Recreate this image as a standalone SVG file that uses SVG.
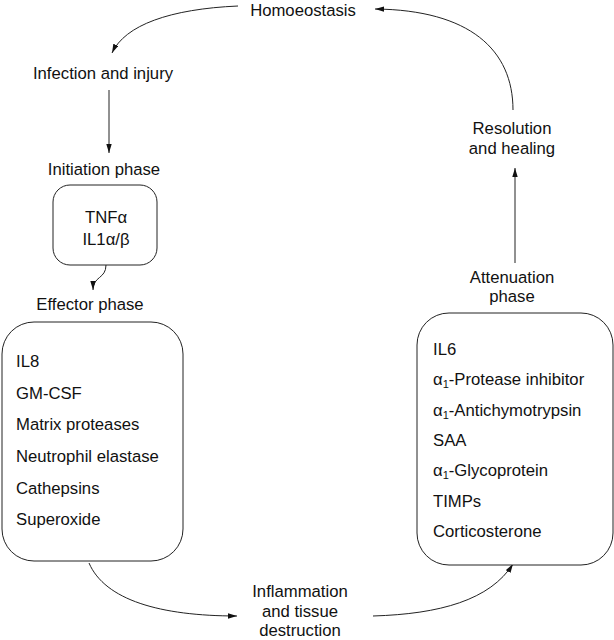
<svg xmlns="http://www.w3.org/2000/svg" width="614" height="640" viewBox="0 0 614 640">
<style>
text{font-family:"Liberation Sans",Arial,sans-serif;font-size:16.7px;fill:#111}
.c{text-anchor:middle}
.box{fill:#fff;stroke:#222;stroke-width:1}
.con{fill:none;stroke:#222;stroke-width:1}
.sub{font-size:11px}
</style>
<defs>
<marker id="ah" viewBox="0 0 10 6" refX="10" refY="3" markerWidth="9" markerHeight="5.4" markerUnits="userSpaceOnUse" orient="auto">
<path d="M0,0 L10,3 L0,6 Z" fill="#111"/>
</marker>
</defs>
<rect width="614" height="640" fill="#fff"/>
<g id="connectors">
<path class="con" d="M238,6 C170,9 125,25 112,53" marker-end="url(#ah)"/>
<path class="con" d="M109,90 L109,153" marker-end="url(#ah)"/>
<path class="con" d="M106,265 C106,279 93,276 93,290" marker-end="url(#ah)"/>
<path class="con" d="M89,563 C105,600 160,616 237,616" marker-end="url(#ah)"/>
<path class="con" d="M373,616 C440,614 490,600 513,564" marker-end="url(#ah)"/>
<path class="con" d="M515,263 L515,168" marker-end="url(#ah)"/>
<path class="con" d="M513,110 C513,50 470,10 375,9" marker-end="url(#ah)"/>
</g>
<g id="homoeostasis"><text class="c" x="303" y="15.5">Homoeostasis</text></g>
<g id="infection"><text class="c" x="103" y="79">Infection and injury</text></g>
<g id="initiation-label"><text class="c" x="104" y="175">Initiation phase</text></g>
<g id="initiation">
<rect class="box" x="53" y="185" width="104" height="80" rx="17"/>
<text class="c" x="106" y="223">TNFα</text>
<text class="c" x="106" y="245">IL1α/β</text>
</g>
<g id="effector-label"><text class="c" x="90" y="310">Effector phase</text></g>
<g id="effector">
<rect class="box" x="2" y="322" width="181" height="239" rx="32"/>
<text x="16" y="367">IL8</text>
<text x="16" y="399">GM-CSF</text>
<text x="16" y="430">Matrix proteases</text>
<text x="16" y="462">Neutrophil elastase</text>
<text x="16" y="494">Cathepsins</text>
<text x="16" y="525">Superoxide</text>
</g>
<g id="inflammation">
<text class="c" x="300" y="597">Inflammation</text>
<text class="c" x="300" y="616.5">and tissue</text>
<text class="c" x="300" y="636">destruction</text>
</g>
<g id="attenuation">
<rect class="box" x="417" y="313" width="196" height="252" rx="32"/>
<text x="433" y="355">IL6</text>
<text x="433" y="385.3">α<tspan class="sub" dy="3">1</tspan><tspan dy="-3">-Protease inhibitor</tspan></text>
<text x="433" y="415.7">α<tspan class="sub" dy="3">1</tspan><tspan dy="-3">-Antichymotrypsin</tspan></text>
<text x="433" y="446">SAA</text>
<text x="433" y="476.3">α<tspan class="sub" dy="3">1</tspan><tspan dy="-3">-Glycoprotein</tspan></text>
<text x="433" y="506.7">TIMPs</text>
<text x="433" y="537">Corticosterone</text>
</g>
<g id="attenuation-label">
<text class="c" x="512" y="283">Attenuation</text>
<text class="c" x="512" y="302">phase</text>
</g>
<g id="resolution">
<text class="c" x="512" y="134">Resolution</text>
<text class="c" x="512" y="154">and healing</text>
</g>
</svg>
